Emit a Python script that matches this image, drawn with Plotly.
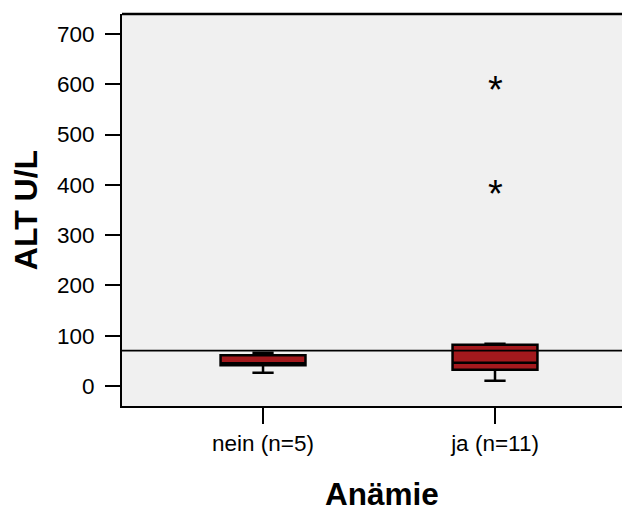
import plotly.graph_objects as go

# Data
categories = ["nein (n=5)", "ja (n=11)"]
q1 = [41, 32]
median = [45, 46]
q3 = [61, 82]
lower_whisker = [26, 10]
upper_whisker = [66, 84]
outlier_cat = ["ja (n=11)", "ja (n=11)"]
outlier_val = [600, 393]
reference_value = [70]
y_ticks = [0, 100, 200, 300, 400, 500, 600, 700]

fig = go.Figure()
fig.add_trace(go.Box(
    x=categories, q1=q1, median=median, q3=q3,
    lowerfence=lower_whisker, upperfence=upper_whisker,
    boxpoints=False, width=0.366, whiskerwidth=0.25,
    fillcolor="#A3191D", line=dict(color="black", width=2.5),
    showlegend=False, hoverinfo="skip",
))

for xv, yv in zip(outlier_cat, outlier_val):
    fig.add_annotation(x=xv, y=yv, text="*", showarrow=False,
                       font=dict(family="Liberation Sans, Arial", size=38, color="black"),
                       yshift=-6, xanchor="center", yanchor="middle")

for rv in reference_value:
    fig.add_shape(type="line", xref="paper", x0=0, x1=1, yref="y", y0=rv, y1=rv,
                  line=dict(color="black", width=1.8), layer="above")

# top border
fig.add_shape(type="line", xref="paper", x0=0, x1=1, yref="paper", y0=1, y1=1,
              line=dict(color="black", width=2.5), layer="above")

# x axis title as annotation (below the plot)
fig.add_annotation(xref="paper", yref="paper", x=0.5, y=0, yshift=-88,
                   text="<b>Anämie</b>", showarrow=False,
                   font=dict(family="Liberation Sans, Arial", size=31.5, color="black"),
                   xanchor="center", yanchor="middle", xshift=6)

fig.update_layout(
    width=622, height=498,
    margin=dict(l=114, r=0, t=6, b=100),
    paper_bgcolor="white", plot_bgcolor="#F0F0F0",
    font=dict(family="Liberation Sans, Arial", color="black"),
    xaxis=dict(
        type="category", range=[-0.608, 1.582], automargin=False,
        showline=True, linecolor="black", linewidth=2,
        ticks="outside", ticklen=16, tickwidth=2, tickcolor="black",
        tickfont=dict(size=22.5), showgrid=False, zeroline=False,
    ),
    yaxis=dict(
        range=[-40, 740], tickvals=y_ticks, automargin=False,
        showline=True, linecolor="black", linewidth=2,
        ticks="outside", ticklen=15, tickwidth=2, tickcolor="black",
        tickfont=dict(size=22.5), showgrid=False, zeroline=False,
        ticklabelstandoff=6,
        title=dict(text="<b>ALT U/L</b>", font=dict(size=32), standoff=12),
    ),
)

fig.write_html("out.html")
